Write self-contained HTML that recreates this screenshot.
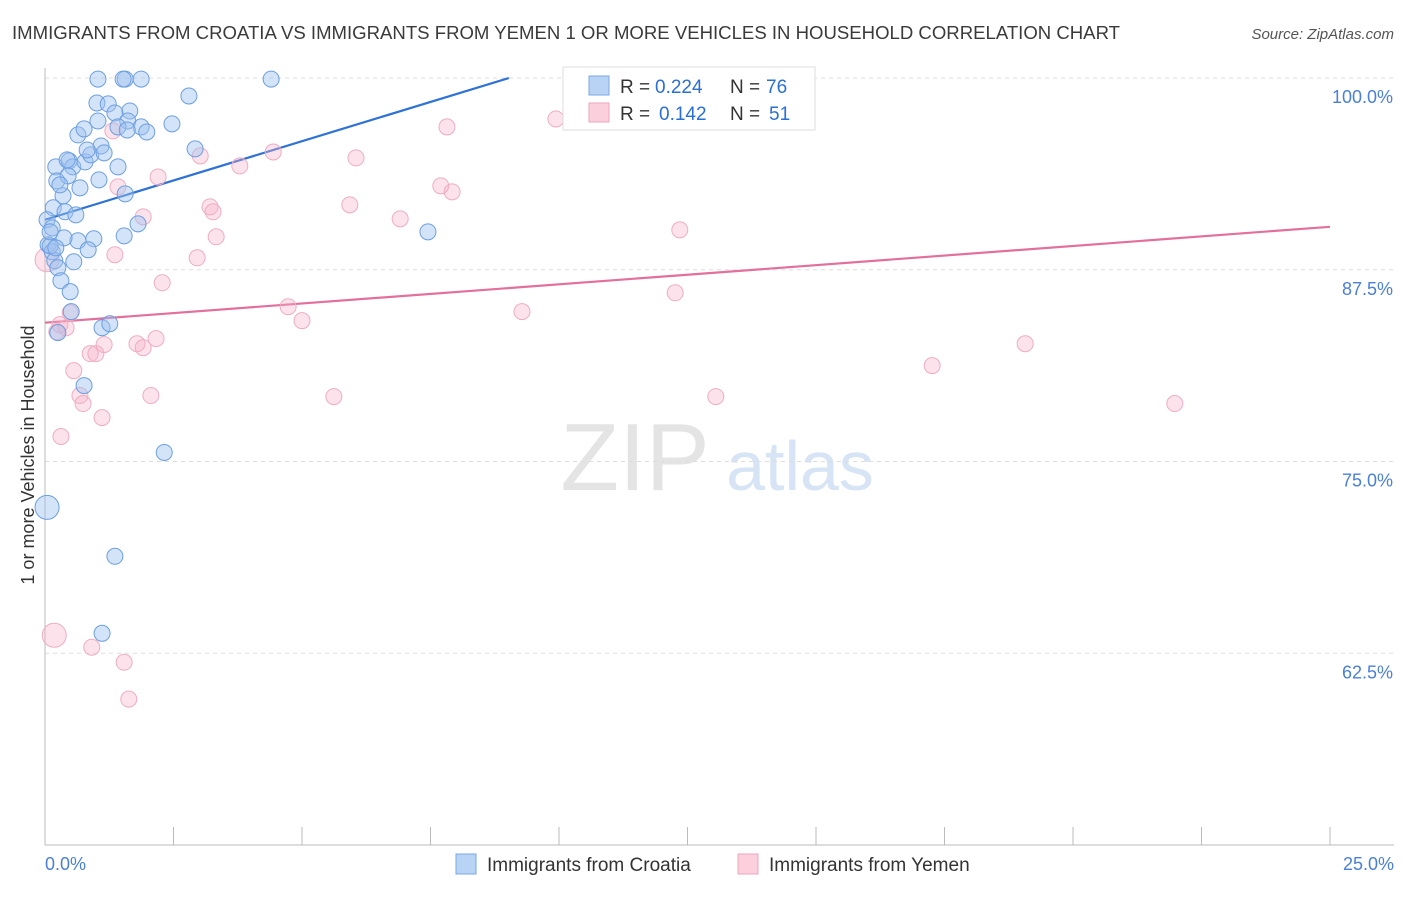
<!DOCTYPE html>
<html><head><meta charset="utf-8"><style>
body{margin:0;background:#fff;font-family:"Liberation Sans",sans-serif;}
svg text{font-family:"Liberation Sans",sans-serif;}
</style></head><body>
<svg id="chart" width="1406" height="892" viewBox="0 0 1406 892" xmlns="http://www.w3.org/2000/svg">
<text x="12" y="39" font-size="18" fill="#3a3a3a" textLength="1108" lengthAdjust="spacingAndGlyphs">IMMIGRANTS FROM CROATIA VS IMMIGRANTS FROM YEMEN 1 OR MORE VEHICLES IN HOUSEHOLD CORRELATION CHART</text>
<text x="1394" y="39" font-size="15" fill="#555" text-anchor="end" font-style="italic">Source: ZipAtlas.com</text>
<text transform="translate(34,455) rotate(-90)" font-size="18" fill="#333" text-anchor="middle">1 or more Vehicles in Household</text>
<g>
<text x="635" y="490" font-size="96" fill="#e4e4e4" text-anchor="middle" font-family="Liberation Serif">ZIP</text>
<text x="800" y="490" font-size="70" fill="#d6e4f5" text-anchor="middle">atlas</text>
</g>
<g id="grid"></g><g id="axes"></g><g id="lines"></g><g id="points"></g>
<g>
<rect x="563" y="67" width="252" height="63" fill="#fff" stroke="#ddd"/>
<rect x="589" y="76" width="20" height="19" fill="#b9d3f5" stroke="#7aa7e3"/>
<text x="620" y="93" font-size="19" fill="#333">R =</text>
<text x="655" y="93" font-size="19" fill="#2a6fd6">0.224</text>
<text x="730" y="93" font-size="19" fill="#333">N =</text>
<text x="766" y="93" font-size="19" fill="#2a6fd6">76</text>
<rect x="589" y="103" width="20" height="19" fill="#fbcfdc" stroke="#eba7bd"/>
<text x="620" y="120" font-size="19" fill="#333">R =</text>
<text x="659" y="120" font-size="19" fill="#2a6fd6">0.142</text>
<text x="730" y="120" font-size="19" fill="#333">N =</text>
<text x="769" y="120" font-size="19" fill="#2a6fd6">51</text>
</g>
<g>
<rect x="456" y="854" width="20" height="20" fill="#b9d3f5" stroke="#7aa7e3"/>
<text x="487" y="871" font-size="19" fill="#333">Immigrants from Croatia</text>
<rect x="738" y="854" width="20" height="20" fill="#fbcfdc" stroke="#eba7bd"/>
<text x="769" y="871" font-size="19" fill="#333">Immigrants from Yemen</text>
</g>
</svg>
<script>
const yTicks=[62.5,75,87.5,100];
const yTickLabels=["62.5%","75.0%","87.5%","100.0%"];
const xTickCount=10;
const xLabels=["0.0%","25.0%"];
const croatiaX=[1.03,1.56,1.52,1.87,4.40,10.33,1.01,1.23,2.80,1.65,1.36,1.03,1.61,1.42,1.87,1.98,1.60,2.47,0.64,0.76,2.92,0.21,0.47,0.54,0.78,0.89,1.09,1.15,0.82,1.42,0.23,0.45,1.05,0.68,1.56,0.35,0.16,0.39,0.60,0.04,0.14,1.81,1.54,0.95,0.64,0.37,0.06,0.14,0.84,0.19,0.56,0.25,0.31,0.49,0.51,1.11,1.26,0.25,0.76,2.32,0.04,1.36,1.11,7.45,0.10,0.10,0.29,0.43,0.21];
const croatiaY=[99.93,99.93,99.93,99.93,99.93,99.93,98.37,98.31,98.83,97.85,97.72,97.20,97.20,96.81,96.81,96.48,96.61,97.01,96.29,96.68,95.38,94.21,94.60,94.21,94.53,94.99,95.57,95.12,95.31,94.21,93.29,93.62,93.36,92.84,92.45,92.32,91.54,91.28,91.08,90.76,90.23,90.49,89.71,89.52,89.39,89.58,89.13,88.67,88.80,88.09,88.02,87.63,86.78,86.07,84.77,83.72,83.98,83.40,79.95,75.59,72.01,68.82,63.80,89.97,89.06,89.97,93.03,94.66,88.93];
const yemenX=[0.04,0.29,0.41,0.23,0.49,0.56,0.68,0.74,0.88,0.99,1.15,1.11,0.31,1.79,1.91,2.16,2.06,1.32,1.42,1.91,2.20,2.28,2.96,3.02,3.21,3.27,3.33,3.79,4.44,4.73,5.00,5.62,5.93,6.05,6.91,7.70,7.82,7.92,9.28,9.94,12.26,12.35,13.05,17.26,19.07,21.98,0.18,0.91,1.54,1.63,1.36];
const yemenY=[88.15,83.92,83.72,83.46,84.70,80.92,79.30,78.78,82.03,82.03,82.62,77.86,76.63,82.68,82.42,83.01,79.30,96.55,92.90,90.95,93.55,86.65,88.28,94.92,91.60,91.28,89.65,94.27,95.18,85.09,84.18,79.23,91.73,94.79,90.82,92.97,96.81,92.58,84.77,97.33,86.00,90.10,79.23,81.25,82.68,78.78,63.67,62.89,61.91,59.51,88.48];
const croatiaBig=[60];
const yemenBig=[0,46];
const croatiaTrend=[90.76,1.024];
const yemenTrend=[84.05,0.25];

const NS="http://www.w3.org/2000/svg";
const X0=45,X1=1330,Y0=845,Y1=78;
function sx(v){return X0+(v/25)*(X1-X0);}
function sy(v){return Y0-(v-50)/50*(Y0-Y1);}
function mk(tag,attrs,parent){const e=document.createElementNS(NS,tag);for(const k in attrs)e.setAttribute(k,attrs[k]);parent.appendChild(e);return e;}
const grid=document.getElementById('grid'),axes=document.getElementById('axes'),lines=document.getElementById('lines'),pts=document.getElementById('points');
yTicks.forEach((t,i)=>{
 const l=mk('line',{x1:X0,x2:1394,y1:sy(t),y2:sy(t),stroke:'#ddd','stroke-dasharray':'4,4'},grid);
 
 
 const tx=mk('text',{x:1393,y:sy(t)+25,'font-size':18,fill:'#4a7fd8','text-anchor':'end'},axes);
 tx.textContent=yTickLabels[i];
 
 
});
const ax=mk('line',{x1:X0,x2:1394,y1:Y0,y2:Y0,stroke:'#bbb'},axes);


const ay=mk('line',{x1:X0,x2:X0,y1:68,y2:Y0,stroke:'#bbb'},axes);


for(let i=0;i<=xTickCount;i++){
 const v=25*i/xTickCount;
 const t=mk('line',{x1:sx(v),x2:sx(v),y1:Y0,y2:Y0-18,stroke:'#bbb'},axes);
 
 
}
[[0,'start',X0],[1,'end',1394]].forEach(([i,a,x])=>{
 const t=mk('text',{x:x,y:870,'font-size':18,fill:'#4a7fd8','text-anchor':a},axes);
 t.textContent=xLabels[i];
 
 
});
function drawPts(xs,ys,big,fill,stroke,name){
 xs.forEach((x,i)=>{
  const c=mk('circle',{cx:sx(x),cy:sy(ys[i]),r:big.includes(i)?12:8,fill:fill,stroke:stroke,'stroke-width':1},pts);
  
  
 });
}
drawPts(yemenX,yemenY,yemenBig,'rgba(246,176,199,0.35)','#eeadc2','yemen-point');
drawPts(croatiaX,croatiaY,croatiaBig,'rgba(158,194,240,0.45)','#6d9fe0','croatia-point');
const bEnd=(100-croatiaTrend[0])/croatiaTrend[1];
const bl=mk('line',{x1:sx(0),y1:sy(croatiaTrend[0]),x2:sx(bEnd),y2:sy(100),stroke:'#2f72d6','stroke-width':2.2},lines);


const pl=mk('line',{x1:sx(0),y1:sy(yemenTrend[0]),x2:sx(25),y2:sy(yemenTrend[0]+25*yemenTrend[1]),stroke:'#e3709c','stroke-width':2.2},lines);


</script>
</body></html>
